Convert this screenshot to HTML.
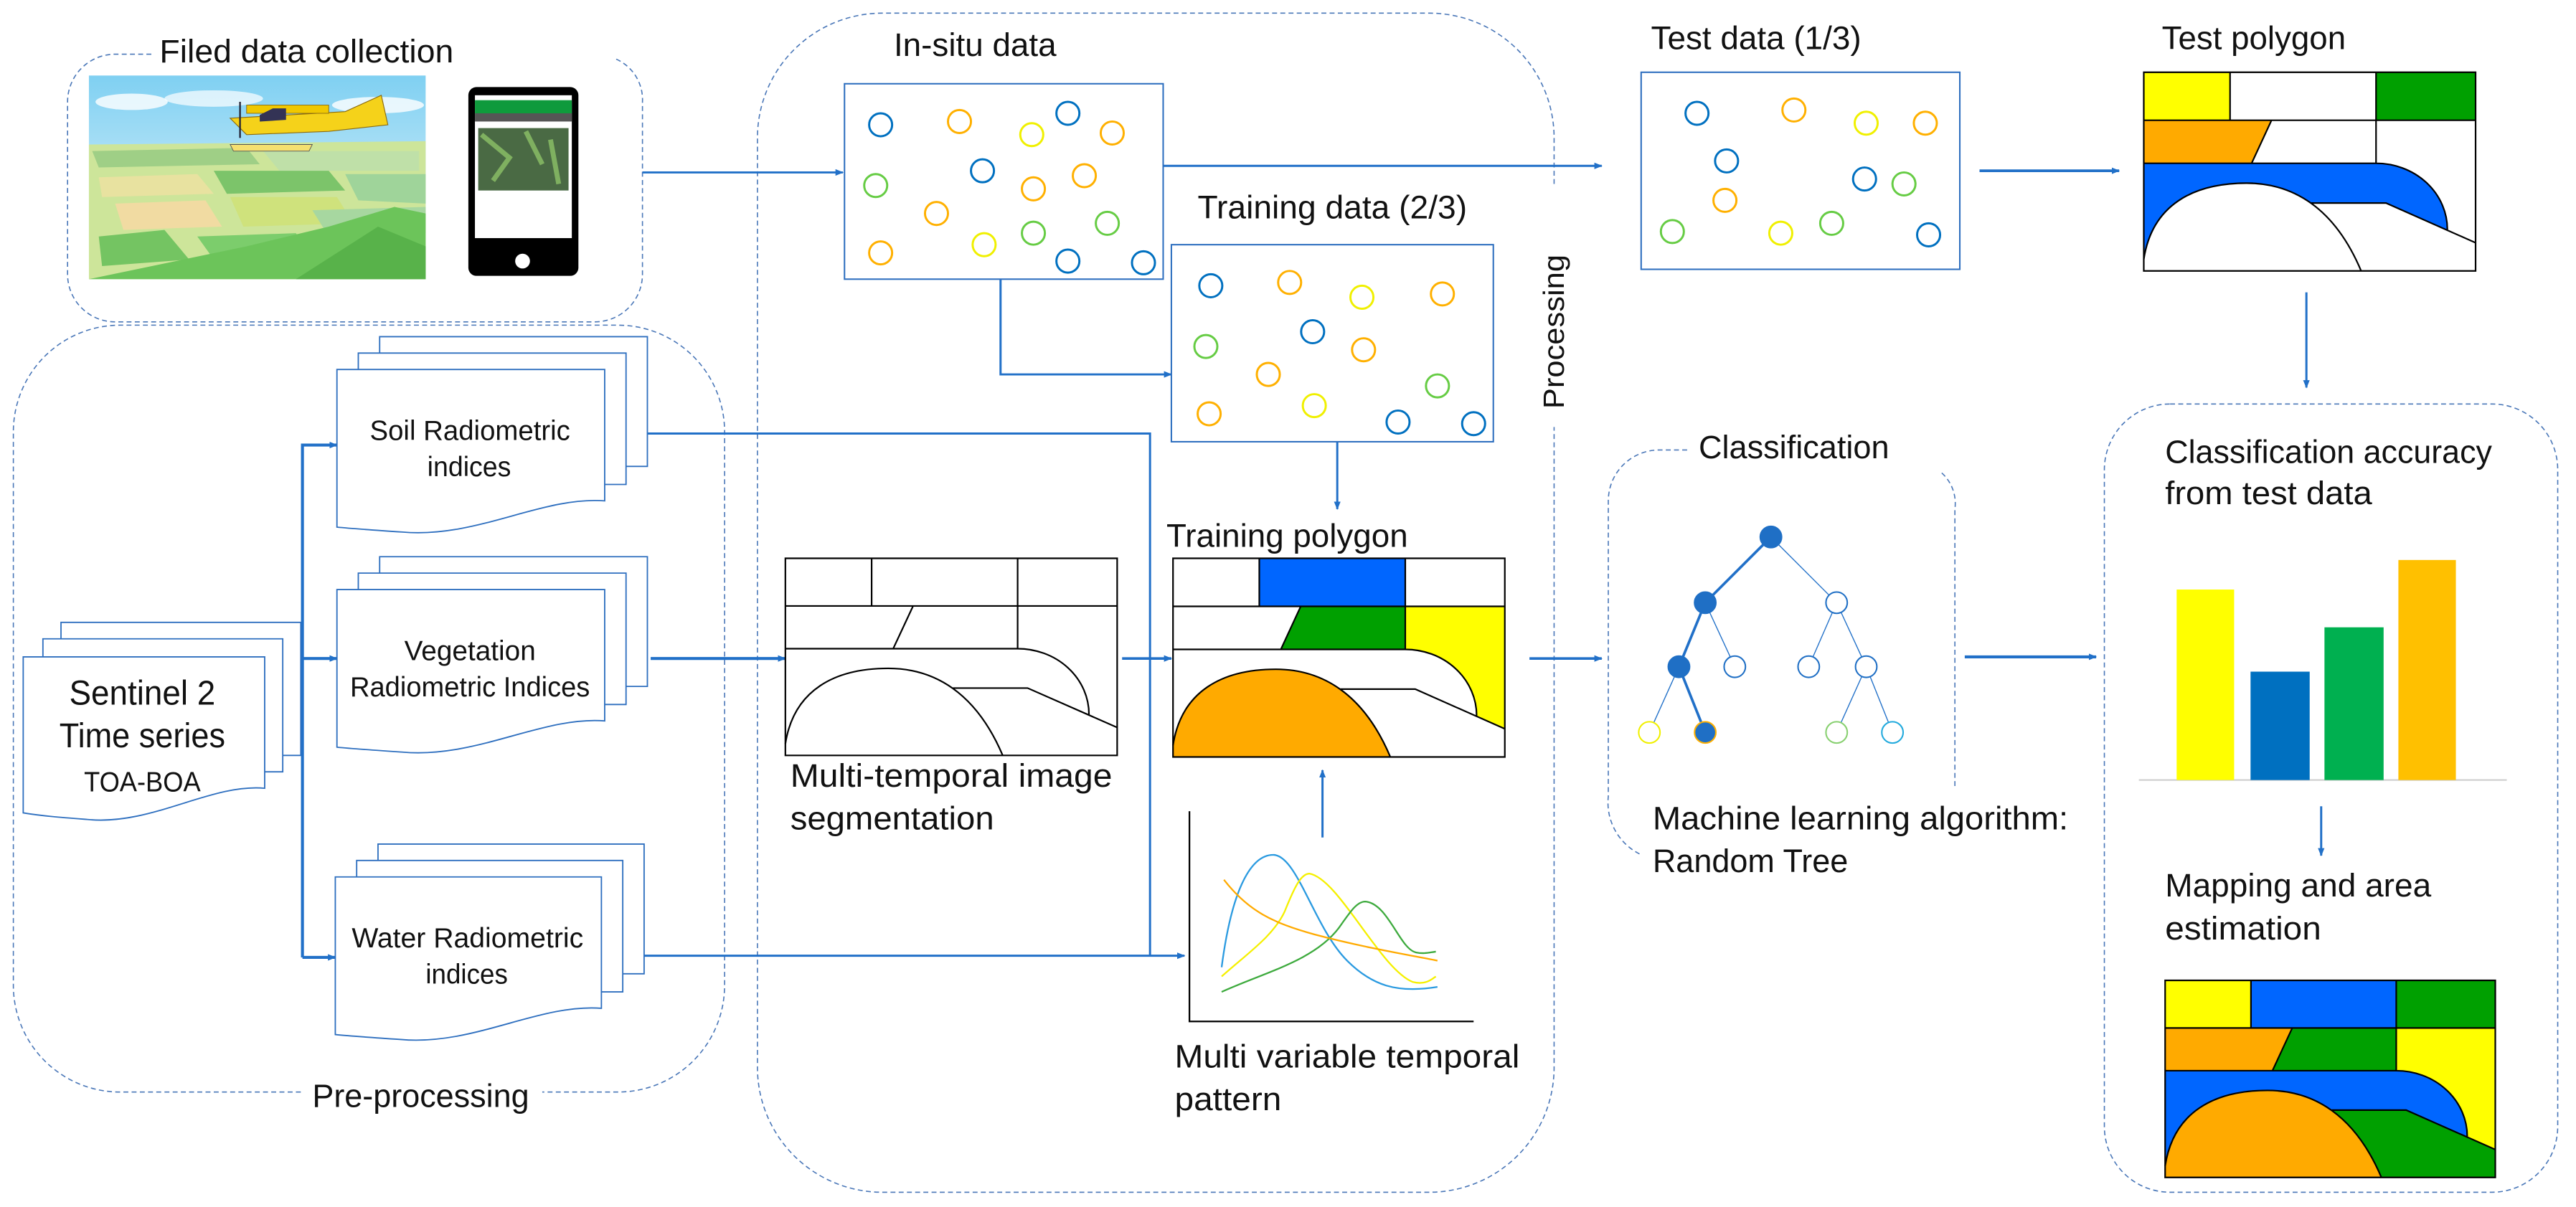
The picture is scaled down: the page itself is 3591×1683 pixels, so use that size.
<!DOCTYPE html>
<html><head><meta charset="utf-8"><style>
html,body{margin:0;padding:0;background:#fff;}
svg{display:block;}
text{font-family:"Liberation Sans",sans-serif;fill:#111;}
</style></head><body>
<svg width="3591" height="1683" viewBox="0 0 1568 735" xmlns="http://www.w3.org/2000/svg">
<defs>
<marker id="ah" viewBox="0 0 10 10" refX="9" refY="5" markerWidth="5" markerHeight="5" orient="auto-start-reverse" markerUnits="userSpaceOnUse"><path d="M0,1 L10,5 L0,9 Z" fill="#2170c8"/></marker>
<linearGradient id="sky" x1="0" y1="0" x2="0" y2="1"><stop offset="0" stop-color="#7fd0f2"/><stop offset="1" stop-color="#eef8fb"/></linearGradient>
</defs>

<g fill="none" stroke="#4a77b8" stroke-width="0.7" stroke-dasharray="3 2">
<path d="M92,33 H70 A29 29 0 0 0 41 62 V167 A29 29 0 0 0 70 196 H362 A29 29 0 0 0 391 167 V62 A27 27 0 0 0 375 36"/>
<path d="M183,665 H73 A65 65 0 0 1 8 600 V263 A65 65 0 0 1 73 198 H376 A65 65 0 0 1 441 263 V600 A65 65 0 0 1 376 665 H330"/>
<path d="M946,112 V84 A76 76 0 0 0 870 8 H537 A76 76 0 0 0 461 84 V650 A76 76 0 0 0 537 726 H870 A76 76 0 0 0 946 650 V260"/>
<path d="M1321,246 H1517 A40 40 0 0 1 1557 286 V686 A40 40 0 0 1 1517 726 H1321 A40 40 0 0 1 1281 686 V286 A40 40 0 0 1 1321 246 Z"/>
<path d="M1027,274 H1010 A31 31 0 0 0 979 305 V485 A35 35 0 0 0 998 520"/>
<path d="M1182,288 A25 25 0 0 1 1190 310 V479"/>
</g>

<rect x="54" y="46" width="205" height="124" fill="url(#sky)"/>
<ellipse cx="80" cy="62" rx="22" ry="5" fill="#fff" opacity="0.8"/>
<ellipse cx="130" cy="60" rx="30" ry="5" fill="#fff" opacity="0.7"/>
<ellipse cx="230" cy="64" rx="28" ry="5" fill="#fff" opacity="0.8"/>
<polygon points="54,88 259,86 259,170 54,170" fill="#cde59a"/>
<polygon points="56,92 150,90 158,100 60,102" fill="#9fcf86"/>
<polygon points="160,92 255,92 255,104 170,104" fill="#bfe0a8"/>
<polygon points="60,108 120,106 130,118 62,120" fill="#e8e2a0"/>
<polygon points="130,104 200,104 210,116 138,118" fill="#7cc46a"/>
<polygon points="210,106 259,106 259,124 218,122" fill="#9fd49a"/>
<polygon points="70,124 125,122 135,138 75,140" fill="#f1dba2"/>
<polygon points="140,120 205,120 215,136 148,138" fill="#cfe27c"/>
<polygon points="190,128 259,126 259,142 200,144" fill="#a7d7a0"/>
<polygon points="60,144 100,140 115,158 62,162" fill="#74c462"/>
<polygon points="120,144 180,142 190,156 130,158" fill="#7ccd6c"/>
<polygon points="54,170 150,150 200,138 240,126 259,130 259,170" fill="#6cc45a"/>
<polygon points="180,170 230,138 259,150 259,170" fill="#58b24a"/>
<g>
<path d="M140,72 L210,68 L232,58 L236,76 L200,80 L150,82 Z" fill="#f5d21a" stroke="#8a6a10" stroke-width="0.5"/>
<rect x="150" y="64" width="50" height="5" fill="#f0c800" stroke="#8a6a10" stroke-width="0.4"/>
<path d="M140,88 H190 L188,92 H142 Z" fill="#f5e070" stroke="#555" stroke-width="0.4"/>
<line x1="146" y1="62" x2="146" y2="84" stroke="#223" stroke-width="1"/>
<path d="M158,70 L166,66 L174,66 L174,73 L158,74 Z" fill="#335"/>
</g>
<rect x="285" y="53" width="67" height="115" rx="5" fill="#000"/>
<rect x="289" y="58" width="59" height="87" fill="#fff"/>
<rect x="289" y="61" width="59" height="8" fill="#0f9a3c"/>
<rect x="289" y="69" width="59" height="5" fill="#555"/>
<rect x="291" y="78" width="55" height="38" fill="#4a6a44"/>
<path d="M293,82 L310,96 L300,110 M320,80 L330,100 M335,85 L340,112" stroke="#7fb060" stroke-width="3" fill="none"/>
<circle cx="318" cy="159" r="4.5" fill="#fff"/>

<g fill="none" stroke="#2170c8" stroke-width="1.3">
<path d="M391,105 H513" marker-end="url(#ah)"/>
<path d="M708,101 H975" marker-end="url(#ah)"/>
<path d="M609,170 V228 H713" marker-end="url(#ah)"/>
<path d="M814,269 V310" marker-end="url(#ah)"/>
<path d="M1205,104 H1290" marker-end="url(#ah)" stroke-width="1.6"/>
<path d="M1404,178 V236" marker-end="url(#ah)"/>
<path d="M184,583 V271 H205" marker-end="url(#ah)" stroke-width="1.8"/>
<path d="M184,401 H205" marker-end="url(#ah)" stroke-width="1.8"/>
<path d="M184,583 H204" marker-end="url(#ah)" stroke-width="1.8"/>
<path d="M396,401 H478" marker-end="url(#ah)" stroke-width="1.8"/>
<path d="M683,401 H713" marker-end="url(#ah)" stroke-width="1.6"/>
<path d="M931,401 H975" marker-end="url(#ah)" stroke-width="1.6"/>
<path d="M1196,400 H1276" marker-end="url(#ah)" stroke-width="1.8"/>
<path d="M394,264 H700 V582"/>
<path d="M392,582 H721" marker-end="url(#ah)"/>
<path d="M805,510 V469" marker-end="url(#ah)"/>
<path d="M1413,491 V521" marker-end="url(#ah)"/>
</g>

<g fill="#fff" stroke="#2e6fbf" stroke-width="0.8">
<path d="M231,215 V205 H394 V284 H381"/><path d="M218,225 V215 H381 V295 H368"/>
<path d="M205,225 H368 V305 C330,302 290,328 245,324 C230,323 215,322 205,321 Z"/>
<path d="M231,349 V339 H394 V418 H381"/><path d="M218,359 V349 H381 V429 H368"/>
<path d="M205,359 H368 V439 C330,436 290,462 245,458 C230,457 215,456 205,455 Z"/>
<path d="M230,524 V514 H392 V593 H379"/><path d="M217,534 V524 H379 V604 H366"/>
<path d="M204,534 H366 V614 C328,611 288,637 244,633 C229,632 214,631 204,630 Z"/>
<path d="M37,389 V379 H183 V460 H172"/><path d="M26,400 V389 H172 V470 H161"/>
<path d="M14,400 H161 V480 C128,477 92,503 53,499 C40,498 26,497 14,495 Z"/>
</g>

<g fill="#fff" stroke="#2e6fbf" stroke-width="0.9">
<rect x="514" y="51" width="194" height="119"/>
<rect x="713" y="149" width="196" height="120"/>
<rect x="999" y="44" width="194" height="120"/>
</g>
<g fill="none" stroke-width="1.3">
<g stroke="#0070c0">
<circle cx="536" cy="76" r="7"/><circle cx="650" cy="69" r="7"/><circle cx="598" cy="104" r="7"/><circle cx="650" cy="159" r="7"/><circle cx="696" cy="160" r="7"/>
<circle cx="737" cy="174" r="7"/><circle cx="799" cy="202" r="7"/><circle cx="851" cy="257" r="7"/><circle cx="897" cy="258" r="7"/>
<circle cx="1033" cy="69" r="7"/><circle cx="1051" cy="98" r="7"/><circle cx="1135" cy="109" r="7"/><circle cx="1174" cy="143" r="7"/>
</g>
<g stroke="#ffb000">
<circle cx="584" cy="74" r="7"/><circle cx="677" cy="81" r="7"/><circle cx="629" cy="115" r="7"/><circle cx="660" cy="107" r="7"/><circle cx="570" cy="130" r="7"/><circle cx="536" cy="154" r="7"/>
<circle cx="785" cy="172" r="7"/><circle cx="878" cy="179" r="7"/><circle cx="830" cy="213" r="7"/><circle cx="772" cy="228" r="7"/><circle cx="736" cy="252" r="7"/>
<circle cx="1092" cy="67" r="7"/><circle cx="1172" cy="75" r="7"/><circle cx="1050" cy="122" r="7"/>
</g>
<g stroke="#f0f000">
<circle cx="628" cy="82" r="7"/><circle cx="599" cy="149" r="7"/><circle cx="829" cy="181" r="7"/><circle cx="800" cy="247" r="7"/><circle cx="1136" cy="75" r="7"/><circle cx="1084" cy="142" r="7"/>
</g>
<g stroke="#66cc44">
<circle cx="533" cy="113" r="7"/><circle cx="674" cy="136" r="7"/><circle cx="629" cy="142" r="7"/><circle cx="734" cy="211" r="7"/><circle cx="875" cy="235" r="7"/>
<circle cx="1159" cy="112" r="7"/><circle cx="1018" cy="141" r="7"/><circle cx="1115" cy="136" r="7"/>
</g>
</g>

<g transform="translate(1305,44) scale(1.01,1.008)">
<rect x="0" y="0" width="200" height="120" fill="#fff"/>
<rect x="0" y="0" width="52" height="29" fill="#ffff00"/>
<rect x="140" y="0" width="60" height="29" fill="#00a000"/>
<polygon points="0,29 77,29 65,55 0,55" fill="#ffaa00"/>
<path d="M0,55 H140 A43 40 0 0 1 183,95 L200,103 V120 H0 Z" fill="#0066ff"/>
<path d="M101,79 H146 L200,103 V120 H131 Z" fill="#fff"/>
<path d="M0,113 C5,80 30,67 62,67 C90,67 115,82 131,120 H0 Z" fill="#fff"/>
<g fill="none" stroke="#000">
<rect x="0" y="0" width="200" height="120" stroke-width="2.2" vector-effect="non-scaling-stroke"/>
<path d="M0,29 H200 M52,0 V29 M140,0 V55 M77,29 L65,55 M0,55 H140 A43 40 0 0 1 183,95 M101,79 H146 L200,103 M0,113 C5,80 30,67 62,67 C90,67 115,82 131,120" stroke-width="2.2" vector-effect="non-scaling-stroke"/>
</g></g>
<g transform="translate(714,340) scale(1.01,1.008)">
<rect x="0" y="0" width="200" height="120" fill="#fff"/>
<rect x="52" y="0" width="88" height="29" fill="#0066ff"/>
<polygon points="77,29 140,29 140,55 65,55" fill="#00a000"/>
<path d="M140,29 H200 V103 L183,95 A43 40 0 0 0 140,55 Z" fill="#ffff00"/>
<path d="M0,113 C5,80 30,67 62,67 C90,67 115,82 131,120 H0 Z" fill="#ffaa00"/>
<g fill="none" stroke="#000">
<rect x="0" y="0" width="200" height="120" stroke-width="2.2" vector-effect="non-scaling-stroke"/>
<path d="M0,29 H200 M52,0 V29 M140,0 V55 M77,29 L65,55 M0,55 H140 A43 40 0 0 1 183,95 M101,79 H146 L200,103 M0,113 C5,80 30,67 62,67 C90,67 115,82 131,120" stroke-width="2.2" vector-effect="non-scaling-stroke"/>
</g></g>
<g transform="translate(478,340) scale(1.01,1.0)">
<rect x="0" y="0" width="200" height="120" fill="#fff"/>
<g fill="none" stroke="#000">
<rect x="0" y="0" width="200" height="120" stroke-width="2.2" vector-effect="non-scaling-stroke"/>
<path d="M0,29 H200 M52,0 V29 M140,0 V55 M77,29 L65,55 M0,55 H140 A43 40 0 0 1 183,95 M101,79 H146 L200,103 M0,113 C5,80 30,67 62,67 C90,67 115,82 131,120" stroke-width="2.2" vector-effect="non-scaling-stroke"/>
</g></g>
<g transform="translate(1318,597) scale(1.005,1.0)">
<rect x="0" y="0" width="52" height="29" fill="#ffff00"/>
<rect x="52" y="0" width="88" height="29" fill="#0066ff"/>
<rect x="140" y="0" width="60" height="29" fill="#00a000"/>
<polygon points="0,29 77,29 65,55 0,55" fill="#ffaa00"/>
<polygon points="77,29 140,29 140,55 65,55" fill="#00a000"/>
<path d="M140,29 H200 V103 L183,95 A43 40 0 0 0 140,55 Z" fill="#ffff00"/>
<path d="M0,55 H140 A43 40 0 0 1 183,95 L200,103 V120 H0 Z" fill="#0066ff"/>
<path d="M101,79 H146 L200,103 V120 H131 Z" fill="#00a000"/>
<path d="M0,113 C5,80 30,67 62,67 C90,67 115,82 131,120 H0 Z" fill="#ffaa00"/>
<g fill="none" stroke="#000">
<rect x="0" y="0" width="200" height="120" stroke-width="2.2" vector-effect="non-scaling-stroke"/>
<path d="M0,29 H200 M52,0 V29 M140,0 V55 M77,29 L65,55 M0,55 H140 A43 40 0 0 1 183,95 M101,79 H146 L200,103 M0,113 C5,80 30,67 62,67 C90,67 115,82 131,120" stroke-width="2.2" vector-effect="non-scaling-stroke"/>
</g></g>

<path d="M724,494 V622 H897" fill="none" stroke="#000" stroke-width="1"/>
<g fill="none" stroke-width="1">
<path d="M743.6,589 C750,540 762,520 775.6,520.6 C790,522 800,565 820,585 C835,600 850,605 875,601" stroke="#2a9ae0"/>
<path d="M743.6,594.6 C760,580 775,570 782,555 C788,540 792,532 797,532 C815,535 840,590 860,598 C868,600 872,596 874,594.6" stroke="#f5f000"/>
<path d="M743.6,604 C770,592 800,585 815,565 C822,555 826,549 831,549 C845,550 852,578 862,580 C867,581 870,580 874,579.5" stroke="#3daa3d"/>
<path d="M745,535.7 C760,555 775,562 800,569 C830,577 860,582 875,585" stroke="#ffaa00"/>
</g>

<g stroke="#2170c8" fill="none">
<path d="M1078,327 L1038,367 L1022,406 L1038,446" stroke-width="1.6"/>
<path d="M1078,327 L1118,367 L1101,406 M1118,367 L1136,406 L1118,446 M1136,406 L1152,446 M1038,367 L1056,406 M1022,406 L1004,446" stroke-width="0.6"/>
</g>
<g stroke-width="0.9">
<circle cx="1078" cy="327" r="6.5" fill="#1f6fc5" stroke="#1f6fc5"/>
<circle cx="1038" cy="367" r="6.5" fill="#1f6fc5" stroke="#1f6fc5"/>
<circle cx="1022" cy="406" r="6.5" fill="#1f6fc5" stroke="#1f6fc5"/>
<circle cx="1118" cy="367" r="6.5" fill="#fff" stroke="#1f6fc5"/>
<circle cx="1056" cy="406" r="6.5" fill="#fff" stroke="#1f6fc5"/>
<circle cx="1101" cy="406" r="6.5" fill="#fff" stroke="#1f6fc5"/>
<circle cx="1136" cy="406" r="6.5" fill="#fff" stroke="#1f6fc5"/>
<circle cx="1004" cy="446" r="6.5" fill="#fff" stroke="#f0f000"/>
<circle cx="1038" cy="446" r="6.5" fill="#1f6fc5" stroke="#ffb000"/>
<circle cx="1118" cy="446" r="6.5" fill="#fff" stroke="#88d070"/>
<circle cx="1152" cy="446" r="6.5" fill="#fff" stroke="#22aadd"/>
</g>

<line x1="1302" y1="475" x2="1526" y2="475" stroke="#d0d0d0" stroke-width="1"/>
<rect x="1325" y="359" width="35" height="116" fill="#ffff00"/>
<rect x="1370" y="409" width="36" height="66" fill="#0070c0"/>
<rect x="1415" y="382" width="36" height="93" fill="#00b050"/>
<rect x="1460" y="341" width="35" height="134" fill="#ffc000"/>

<g font-size="20">
<text x="97" y="38" textLength="179" lengthAdjust="spacingAndGlyphs">Filed data collection</text>
<text x="544" y="34" textLength="99" lengthAdjust="spacingAndGlyphs">In-situ data</text>
<text x="729" y="133" textLength="164" lengthAdjust="spacingAndGlyphs">Training data (2/3)</text>
<text x="710" y="333" textLength="147" lengthAdjust="spacingAndGlyphs">Training polygon</text>
<text x="1005" y="30" textLength="128" lengthAdjust="spacingAndGlyphs">Test data (1/3)</text>
<text x="1316" y="30" textLength="112" lengthAdjust="spacingAndGlyphs">Test polygon</text>
<text x="1034" y="279" textLength="116" lengthAdjust="spacingAndGlyphs">Classification</text>
<text x="1318" y="282" textLength="199" lengthAdjust="spacingAndGlyphs">Classification accuracy</text>
<text x="1318" y="307" textLength="126" lengthAdjust="spacingAndGlyphs">from test data</text>
<text x="1006" y="505" textLength="253" lengthAdjust="spacingAndGlyphs">Machine learning algorithm:</text>
<text x="1006" y="531" textLength="119" lengthAdjust="spacingAndGlyphs">Random Tree</text>
<text x="1318" y="546" textLength="162" lengthAdjust="spacingAndGlyphs">Mapping and area</text>
<text x="1318" y="572" textLength="95" lengthAdjust="spacingAndGlyphs">estimation</text>
<text x="481" y="479" textLength="196" lengthAdjust="spacingAndGlyphs">Multi-temporal image</text>
<text x="481" y="505" textLength="124" lengthAdjust="spacingAndGlyphs">segmentation</text>
<text x="715" y="650" textLength="210" lengthAdjust="spacingAndGlyphs">Multi variable temporal</text>
<text x="715" y="676" textLength="65" lengthAdjust="spacingAndGlyphs">pattern</text>
<text x="190" y="674" textLength="132" lengthAdjust="spacingAndGlyphs">Pre-processing</text>
<text x="0" y="0" transform="translate(952,249) rotate(-90)" font-size="18" textLength="94" lengthAdjust="spacingAndGlyphs">Processing</text>
</g>
<g font-size="17">
<text x="225" y="268" textLength="122" lengthAdjust="spacingAndGlyphs">Soil Radiometric</text>
<text x="260" y="290" textLength="51" lengthAdjust="spacingAndGlyphs">indices</text>
<text x="246" y="402" textLength="80" lengthAdjust="spacingAndGlyphs">Vegetation</text>
<text x="213" y="424" textLength="146" lengthAdjust="spacingAndGlyphs">Radiometric Indices</text>
<text x="214" y="577" textLength="141" lengthAdjust="spacingAndGlyphs">Water Radiometric</text>
<text x="259" y="599" textLength="50" lengthAdjust="spacingAndGlyphs">indices</text>
<text x="36" y="455" font-size="21" textLength="101" lengthAdjust="spacingAndGlyphs">Time series</text>
<text x="42" y="429" font-size="21" textLength="89" lengthAdjust="spacingAndGlyphs">Sentinel 2</text>
<text x="51" y="482" font-size="17" textLength="71" lengthAdjust="spacingAndGlyphs">TOA-BOA</text>
</g>
</svg>
</body></html>
